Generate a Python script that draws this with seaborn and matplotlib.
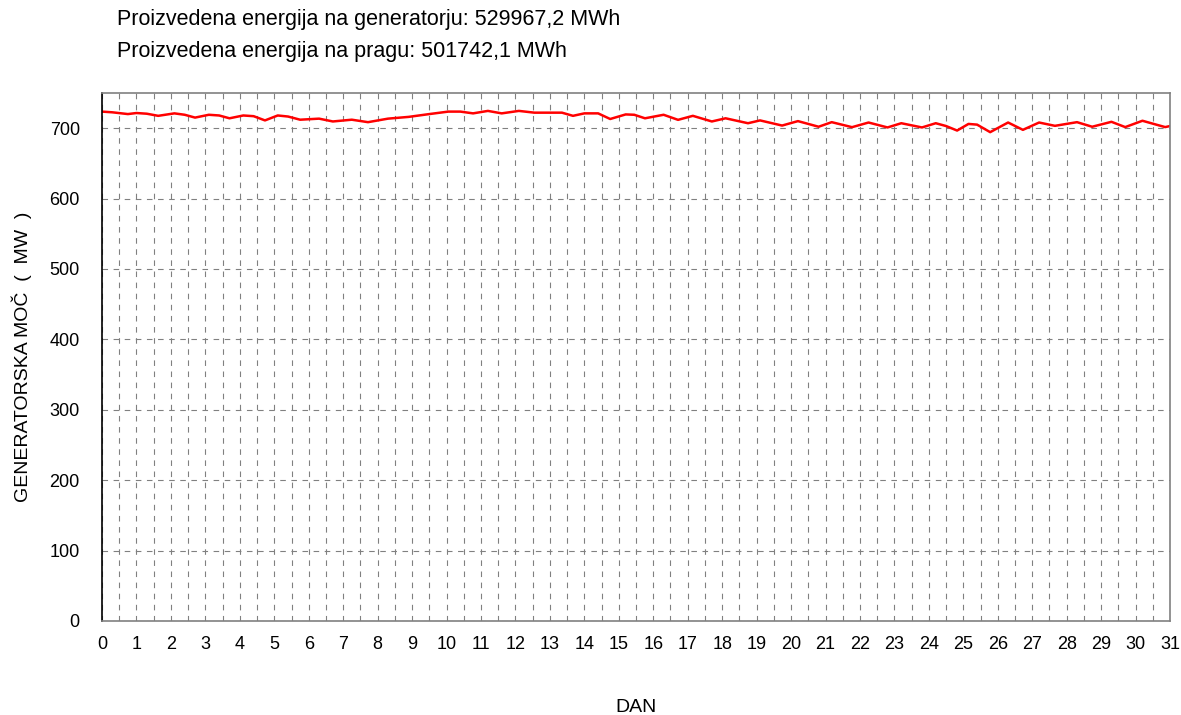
import numpy as np
import pandas as pd
import seaborn as sns
from matplotlib import pyplot as plt

# values (day, MW)
dan = [0.0, 0.3, 0.75, 1.0, 1.3, 1.63, 2.1, 2.4, 2.7, 3.1, 3.4, 3.7, 4.1, 4.4, 4.73,
       5.1, 5.4, 5.75, 6.3, 6.7, 7.25, 7.72, 8.3, 8.9, 9.5, 10.05, 10.4, 10.77,
       11.2, 11.6, 12.1, 12.55, 13.07, 13.35, 13.67, 14.0, 14.4, 14.75, 15.2,
       15.45, 15.76, 16.3, 16.72, 17.15, 17.7, 18.1, 18.75, 19.1, 19.74, 20.2,
       20.8, 21.18, 21.77, 22.25, 22.8, 23.2, 23.8, 24.2, 24.5, 24.82, 25.15,
       25.4, 25.78, 26.07, 26.3, 26.73, 27.2, 27.66, 28.3, 28.74, 29.3, 29.7,
       30.2, 30.6, 30.86, 31.0]
moc = [723.5, 722.5, 720, 721.5, 720.5, 717.5, 721, 719, 715, 719, 718, 714, 718, 717, 711,
       718, 716.5, 712, 713.5, 709.5, 712, 708.5, 713.5, 716, 720, 723.5, 723.5, 721,
       724.5, 721, 724.5, 722, 722, 722, 717.5, 721, 721, 713, 719.5,
       719, 714, 719, 711.8, 717.5, 709.5, 714, 707, 711, 703.7, 710,
       702, 708.5, 701.4, 708, 701, 707, 701, 707, 703, 696.6, 706,
       705, 694.3, 702, 708, 697.6, 708, 703.3, 708.5, 702, 709, 701.5,
       710.5, 705, 701.5, 703]

naslov = ["Proizvedena energija na generatorju: 529967,2 MWh",
          "Proizvedena energija na pragu: 501742,1 MWh"]

df = pd.DataFrame({"DAN": dan, "MOC": moc})

sns.set_style("white")
plt.rcParams['font.family'] = ['Liberation Sans', 'DejaVu Sans']
plt.rcParams['text.color'] = 'black'
plt.rcParams['axes.labelcolor'] = 'black'
plt.rcParams['xtick.color'] = 'black'
plt.rcParams['ytick.color'] = 'black'

fig = plt.figure(figsize=(11.81, 7.15), dpi=100)
ax = fig.add_axes([0.0864, 0.1315, 0.9043, 0.7385])

sns.lineplot(data=df, x="DAN", y="MOC", color="red", linewidth=1.8, ax=ax)

ax.set_xlim(0, 31)
ax.set_ylim(0, 750)
ax.set_xticks(range(32))
ax.set_xticks(np.arange(0.5, 31, 1.0), minor=True)
ax.set_yticks(range(0, 701, 100))
ax.tick_params(axis="x", which="both", length=0, labelsize=13, pad=11)
ax.tick_params(axis="y", length=7, direction="out", color="black", labelsize=13, pad=9)

ax.grid(True, axis="x", which="both", color="#808080", linestyle=(0, (5, 5)), linewidth=0.8)
ax.grid(True, axis="y", which="major", color="#808080", linestyle=(0, (5, 5)), linewidth=0.8)

for s in ["top", "right", "bottom"]:
    ax.spines[s].set_color("#808080")
    ax.spines[s].set_linewidth(1.2)
ax.spines["left"].set_color("black")
ax.spines["left"].set_linewidth(1.2)

ax.set_xlabel("DAN", fontsize=14)
ax.xaxis.set_label_coords(0.5, -0.148)
ax.set_ylabel("GENERATORSKA MOČ  (  MW  )", fontsize=14)
ax.yaxis.set_label_coords(-0.0655, 0.5)

fig.text(117 / 1181, 1 - 20 / 715, naslov[0], fontsize=15.5, va="center")
fig.text(117 / 1181, 1 - 52 / 715, naslov[1], fontsize=15.5, va="center")

fig.savefig("out.png", dpi=100)
